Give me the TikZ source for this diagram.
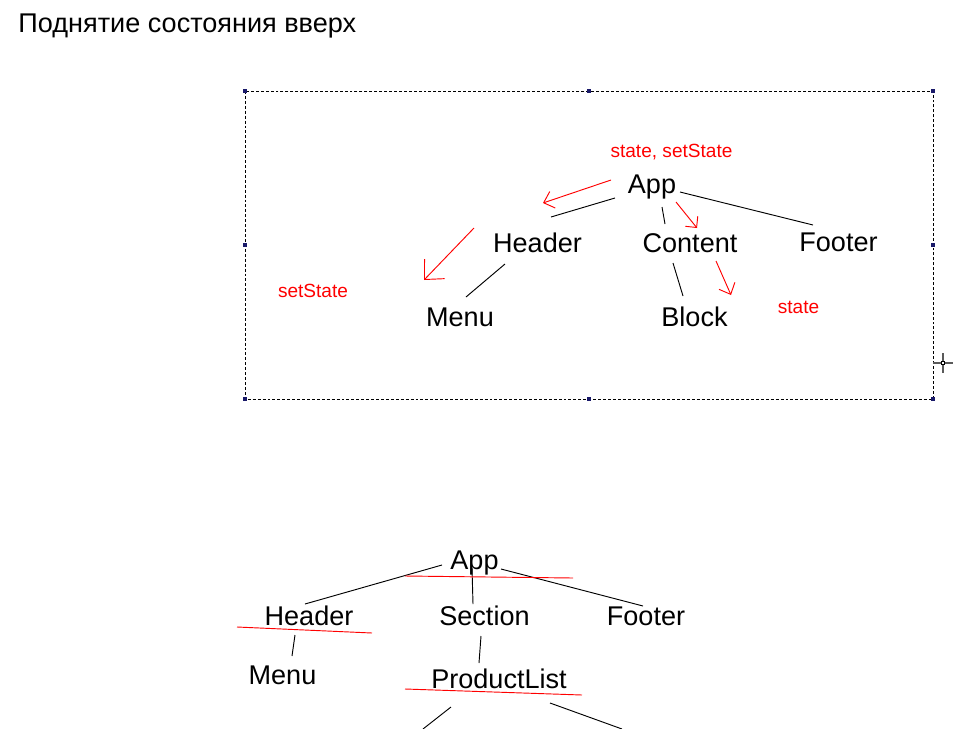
\documentclass[tikz,border=0pt]{standalone}
\usepackage{fontspec}
\setmainfont{Liberation Sans}
\usetikzlibrary{arrows.meta}
\definecolor{handle}{RGB}{25,25,105}
\definecolor{cursorgray}{RGB}{90,90,90}

\begin{document}
\begin{tikzpicture}[x=0.75pt,y=-0.75pt,line width=0.7pt,
  every node/.style={inner sep=0pt,anchor=base},
  comp/.style={font=\fontsize{20.3}{24}\selectfont},
  note/.style={text=red,font=\fontsize{14.3}{17}\selectfont},
  redarrow/.style={red,-{Straight Barb[length=7pt,width=13pt]}}]
  \useasboundingbox (0,0) rectangle (972,729);

  % title
  \node[comp,anchor=base west] (title) at (18,32.5) {Поднятие состояния вверх};

  % frame
  \draw[line width=0.6pt,dash pattern=on 2.2pt off 1.5pt] (245,91) coordinate (frame-nw) rectangle (933,399) coordinate (frame-se);
  \foreach \hx/\hy in {245/91,589/91,933/91,245/245,933/245,245/399,589/399,933/399}
    \fill[handle] (\hx-1.6,\hy-1.6) rectangle (\hx+1.6,\hy+1.6);
  %cursor
  \coordinate (cursor) at (943,363);
  \draw[cursorgray,line width=1.1pt] (cursor) ++(-10,0) -- ++(20,0) (cursor) ++(0,-10) -- ++(0,20);
  \draw[black,fill=white,line width=0.5pt] (cursor) ++(-1.8,-1.8) rectangle ++(3.6,3.6);

  % top
  %labels
  \node[note] (lift) at (671.5,157) {state, setState};
  \node[comp] (app) at (652,193) {App};
  \node[comp] (header) at (537.5,252) {Header};
  \node[comp] (content) at (690,252) {Content};
  \node[comp] (footer) at (838.5,251) {Footer};
  \node[comp] (menu) at (460,326) {Menu};
  \node[comp] (block) at (694.5,326) {Block};
  \node[note] (setter) at (313,297) {setState};
  \node[note] (getter) at (798.5,313) {state};
  %edges
  \coordinate (app-h) at (615,198);   \coordinate (header-a) at (551,217);
  \coordinate (app-c) at (662,207);   \coordinate (content-a) at (665,224);
  \coordinate (app-f) at (680,192);   \coordinate (footer-a) at (813,225);
  \coordinate (header-m) at (505,264); \coordinate (menu-h) at (466,297);
  \coordinate (content-b) at (673,263); \coordinate (block-c) at (683,296);
  \draw (app-h) -- (header-a);
  \draw (app-c) -- (content-a);
  \draw (app-f) -- (footer-a);
  \draw (header-m) -- (menu-h);
  \draw (content-b) -- (block-c);
  %state flow
  \draw[redarrow] (611,180) -- (543,203);
  \draw[redarrow,-{Straight Barb[length=11pt,width=21pt]}] (474,228) -- (424,280);
  \draw[redarrow,-{Straight Barb[length=6pt,width=12pt]}] (676,202) -- (697,228);
  \draw[redarrow] (716,261) -- (731,295);

  % bottom
  %labels
  \node[comp] (app2) at (474.5,569) {App};
  \node[comp] (header2) at (309,625) {Header};
  \node[comp] (section2) at (484.5,625) {Section};
  \node[comp] (footer2) at (646,625) {Footer};
  \node[comp] (menu2) at (282.5,684) {Menu};
  \node[comp] (list2) at (499,688) {ProductList};
  %edges
  \draw (442,565) -- (305,604);
  \draw (472,568) -- (473,604);
  \draw (501,569) -- (643,606);
  \draw (295,635) -- (292,656);
  \draw (481,636) -- (479,663);
  \draw (451,707) -- (423,729);
  \draw (550,703) -- (622,729);
  %marks
  \draw[red] (405,576) -- (573,578);
  \draw[red] (237,627) -- (372,633);
  \draw[red] (405,689) -- (582,695);
\end{tikzpicture}
\end{document}
